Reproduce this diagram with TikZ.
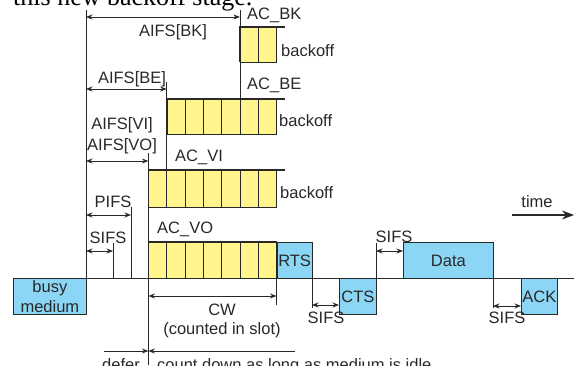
\documentclass[tikz,border=0pt]{standalone}
\usepackage{fontspec}
\setmainfont{Liberation Sans}
\newfontfamily\bodyserif{Liberation Serif}
\usetikzlibrary{arrows.meta}

\definecolor{slotfill}{RGB}{255,245,140}
\definecolor{framefill}{RGB}{140,214,245}
\definecolor{ink}{RGB}{40,40,40}

\begin{document}
\begin{tikzpicture}[x=1pt,y=-1pt,>={Stealth[length=6.5pt,width=5pt]},
    every node/.style={font=\fontsize{16.5}{20}\selectfont,text=ink,inner sep=0pt},
    rule/.style={draw=ink,line width=0.8pt},
    slot/.style={draw=ink,fill=slotfill,line width=0.8pt},
    frame/.style={draw=ink,fill=framefill,line width=0.8pt,anchor=north west,align=center},
    bar/.style={draw=ink,line width=1.8pt},
    gap/.style={<->,draw=ink,line width=0.8pt}]
  \useasboundingbox (0,0) rectangle (574,365);
  \clip (0,0) rectangle (574,365);

  % tail of the sentence above the figure
  \node[anchor=base west,font=\bodyserif\fontsize{26}{30}\selectfont,text=black] (caption) at (13,5) {this new backoff stage.};

  % backoff slots of the four access categories
  \foreach \n/\top/\bot in {7/242/278, 7/170/207, 6/99/134, 2/27/62}
    \foreach \i in {1,...,\n}
      \draw[slot] (276.5-\i*18.3,\top) rectangle (276.5-\i*18.3+18.3,\bot);
  \draw[bar] (148.4,278) -- (148.4,242) -- (276.5,242);
  \draw[bar] (148.4,207) -- (148.4,170) -- (285,170);
  \draw[bar] (166.7,134) -- (166.7,99) -- (285,99);
  \draw[bar] (239.9,62) -- (239.9,27) -- (285,27);

  % medium frames
  \node[frame,minimum width=73pt,minimum height=36pt] (busy) at (13,278) {busy\\medium};
  \node[frame,minimum width=35.5pt,minimum height=36pt] (rts) at (276.5,242) {RTS};
  \node[frame,minimum width=37pt,minimum height=36pt] (cts) at (339,278) {CTS};
  \node[frame,minimum width=90pt,minimum height=36pt] (data) at (403,242) {Data};
  \node[frame,minimum width=36pt,minimum height=36pt] (ack) at (521,278) {ACK};

  % time axis and markers
  \draw[rule] (13,278) -- (574,278);
  \draw[rule] (86,10) -- (86,278);
  \draw[rule] (239.9,10) -- (239.9,99);
  \draw[rule] (166.7,82) -- (166.7,170);
  \draw[rule] (148.4,153) -- (148.4,365);
  \draw[rule] (131,207) -- (131,278);
  \draw[rule] (113,243) -- (113,278);
  \draw[rule] (276.5,278) -- (276.5,305);
  \draw[rule] (312,278) -- (312,308);
  \draw[rule] (376,314) -- (376,243);
  \draw[rule] (493,278) -- (493,308);

  % interframe spaces
  \coordinate (bk-a) at (86,17);   \coordinate (bk-b) at (239.9,17);
  \coordinate (be-a) at (86,89);   \coordinate (be-b) at (166.7,89);
  \coordinate (vo-a) at (86,161);  \coordinate (vo-b) at (148.4,161);
  \coordinate (pifs-a) at (86,215); \coordinate (pifs-b) at (131,215);
  \coordinate (sifs-a) at (86,251); \coordinate (sifs-b) at (113,251);
  \coordinate (cw-a) at (148.4,296); \coordinate (cw-b) at (276.5,296);
  \coordinate (s1-a) at (312,305); \coordinate (s1-b) at (339,305);
  \coordinate (s2-a) at (376,251); \coordinate (s2-b) at (403,251);
  \coordinate (s3-a) at (493,306); \coordinate (s3-b) at (521,306);
  \coordinate (defer-a) at (104,351); \coordinate (defer-b) at (148.4,351);
  \coordinate (count-b) at (295,351);
  \coordinate (time-a) at (512,215); \coordinate (time-b) at (574,215);

  \draw[gap] (bk-a) -- (bk-b);
  \draw[gap] (be-a) -- (be-b);
  \draw[gap] (vo-a) -- (vo-b);
  \draw[gap] (pifs-a) -- (pifs-b);
  \draw[gap] (sifs-a) -- (sifs-b);
  \draw[gap] (cw-a) -- (cw-b);
  \draw[gap] (s1-a) -- (s1-b);
  \draw[gap] (s2-a) -- (s2-b);
  \draw[gap] (s3-a) -- (s3-b);
  \draw[rule,->] (defer-a) -- (defer-b);
  \draw[rule,<-] (defer-b) -- (count-b);
  \draw[draw=ink,line width=1.2pt,-{Stealth[length=12pt,width=9pt]}] (time-a) -- (time-b);

  % labels
  \node (aifsbk) at (173,32) {AIFS[BK]};
  \node (aifsbe) at (132,79) {AIFS[BE]};
  \node (aifsvi) at (122,125) {AIFS[VI]};
  \node (aifsvo) at (122,146) {AIFS[VO]};
  \node (pifs) at (113,202) {PIFS};
  \node (sifs) at (108,238) {SIFS};
  \node[anchor=west] (acbk) at (247,15) {AC\_BK};
  \node[anchor=west] (acbe) at (247,85) {AC\_BE};
  \node[anchor=west] (acvi) at (175,157) {AC\_VI};
  \node[anchor=west] (acvo) at (157,229) {AC\_VO};
  \node[anchor=west] (bobk) at (281,51) {backoff};
  \node[anchor=west] (bobe) at (279,121) {backoff};
  \node[anchor=west] (bovi) at (280,193) {backoff};
  \node (cw) at (222,310) {CW};
  \node (slots) at (222,330) {(counted in slot)};
  \node (sifs1) at (326,318) {SIFS};
  \node (sifs2) at (394,237) {SIFS};
  \node (sifs3) at (507,318) {SIFS};
  \node (time) at (537,202) {time};
  \node[anchor=base] (defer) at (121,370) {defer};
  \node[anchor=base west] (count) at (157,370) {count down as long as medium is idle};
\end{tikzpicture}
\end{document}
